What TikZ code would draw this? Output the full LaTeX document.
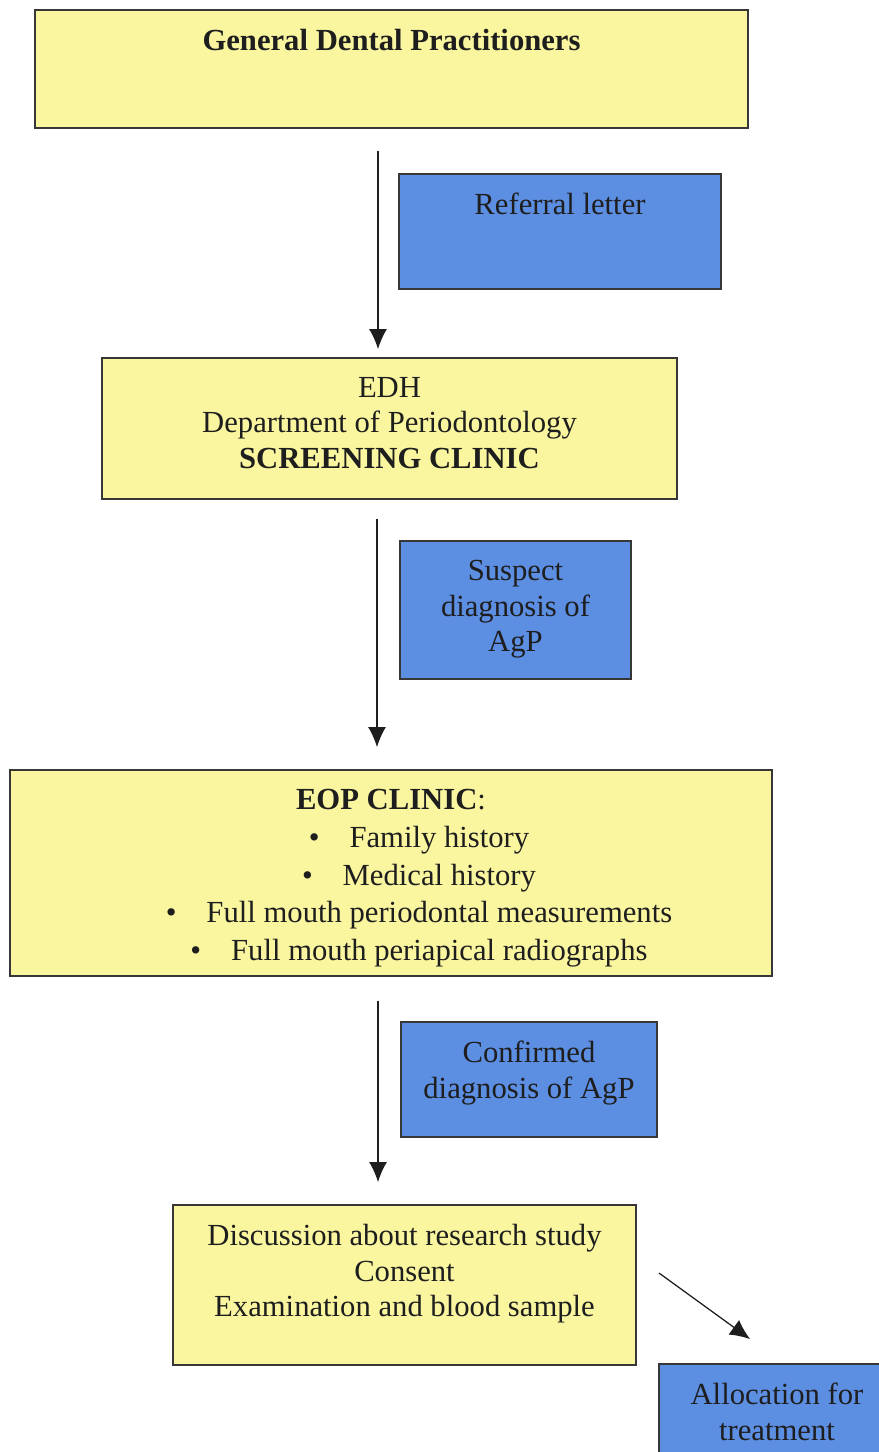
\documentclass[tikz,border=0pt]{standalone}
\usepackage{fontspec}
\setmainfont{Liberation Serif}
\usepackage{xcolor}
\usetikzlibrary{arrows.meta, positioning, calc}
\definecolor{boxyellow}{RGB}{250,246,160}
\definecolor{boxblue}{RGB}{92,142,226}
\definecolor{boxline}{RGB}{55,55,55}
\definecolor{ink}{RGB}{30,30,30}
\tikzset{
  ybox/.style={draw=boxline, fill=boxyellow, line width=1.3pt, inner sep=0pt},
  bbox/.style={ybox, fill=boxblue},
  txt/.style={anchor=north, yshift=-0.5cm, align=center, inner sep=0pt, text=ink},
  link/.style={-{Latex[length=5mm, width=4.5mm]}, line width=0.9pt, draw=ink}
}
\newcommand{\bitem}[1]{\hspace*{1.4cm}\textbullet\hspace{0.75cm}#1}

\begin{document}
\begin{tikzpicture}[x=0.025cm, y=-0.025cm, font=\fontsize{21.8}{25.2}\selectfont]
        \clip (0,0) rectangle (879,1452);

        % Main flow
        \node[ybox, minimum width=17.825cm, minimum height=2.95cm,
              label={[txt, font=\fontsize{21.8}{25.2}\selectfont\bfseries]north:General Dental Practitioners}] (gdp) at (391.5,69) {};
        \node[ybox, minimum width=14.375cm, minimum height=3.525cm,
              label={[txt]north:EDH\\Department of Periodontology\\\textbf{SCREENING CLINIC}}] (edh) at (389.5,428.5) {};
        \node[ybox, minimum width=19.05cm, minimum height=5.15cm,
              label={[txt, font=\fontsize{21.8}{26.8}\selectfont]north:\textbf{EOP CLINIC}:\\\bitem{Family history}\\\bitem{Medical history}\\\bitem{Full mouth periodontal measurements}\\\bitem{Full mouth periapical radiographs}}] (eop) at (391,873) {};
        \node[ybox, minimum width=11.575cm, minimum height=4.0cm,
              label={[txt]north:Discussion about research study\\Consent\\Examination and blood sample}] (disc) at (404.5,1285) {};

        % Side notes
        \node[bbox, minimum width=8.05cm, minimum height=2.875cm,
              label={[txt]north:Referral letter}] (referral) at (560,231.5) {};
        \node[bbox, minimum width=5.775cm, minimum height=3.45cm,
              label={[txt]north:Suspect\\diagnosis of\\AgP}] (suspect) at (515.5,610) {};
        \node[bbox, minimum width=6.4cm, minimum height=2.875cm,
              label={[txt]north:Confirmed\\diagnosis of AgP}] (confirmed) at (529,1079.5) {};
        \node[bbox, minimum width=5.9cm, minimum height=2.875cm,
              label={[txt]north:Allocation for\\treatment}] (alloc) at (777,1421.5) {};

        % Arrows
        \coordinate (ax) at (378,0);
        \draw[link] ([yshift=-0.55cm]gdp.south -| ax) -- ([yshift=0.2cm]edh.north -| ax);
        \draw[link] ([xshift=-0.025cm, yshift=-0.475cm]edh.south -| ax) -- ([xshift=-0.025cm, yshift=0.55cm]eop.north -| ax);
        \draw[link] ([yshift=-0.6cm]eop.south -| ax) -- ([yshift=0.55cm]disc.north -| ax);
        \draw[link] ([xshift=0.55cm, yshift=0.3cm]disc.east) -- ([xshift=2.3cm, yshift=0.6cm]alloc.north west);
    \end{tikzpicture}
\end{document}
